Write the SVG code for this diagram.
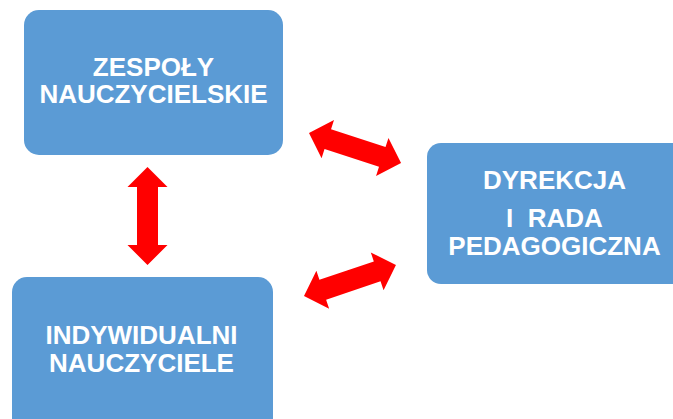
<svg xmlns="http://www.w3.org/2000/svg" xmlns:xlink="http://www.w3.org/1999/xlink" width="673" height="419" viewBox="0 0 673 419">
<style>
.box{fill:#5B9BD5;}
.t{fill:#FFFFFF;font-family:"Liberation Sans",Arial,sans-serif;font-weight:bold;font-size:26px;text-anchor:middle;white-space:pre;}
.arr{fill:#FF0000;}
</style>
<defs>
<path id="dbl" d="M0,0 L20,-20 L20,-10.5 L78,-10.5 L78,-20 L98,0 L78,20 L78,10.5 L20,10.5 L20,20 Z"/>
</defs>
<rect width="673" height="419" fill="#FFFFFF"/>
<g id="zespoly">
<rect class="box" x="24" y="10" width="259" height="145" rx="15"/>
<text class="t" x="153.5" y="76">ZESPOŁY</text>
<text class="t" x="153.5" y="103">NAUCZYCIELSKIE</text>
</g>
<g id="dyrekcja">
<rect class="box" x="427" y="143" width="270" height="141" rx="14"/>
<text class="t" x="554.5" y="189">DYREKCJA</text>
<text class="t" x="554.5" y="227" xml:space="preserve">I  RADA</text>
<text class="t" x="554.5" y="255">PEDAGOGICZNA</text>
</g>
<g id="indywidualni">
<rect class="box" x="12" y="277" width="261" height="160" rx="15"/>
<text class="t" x="141.5" y="344">INDYWIDUALNI</text>
<text class="t" x="141.5" y="372">NAUCZYCIELE</text>
</g>
<g id="connectors" class="arr">
<use xlink:href="#dbl" transform="translate(147.5,167) rotate(90)"/>
<use xlink:href="#dbl" transform="translate(309,133) rotate(18.06) scale(0.988,1)"/>
<use xlink:href="#dbl" transform="translate(304,296) rotate(-18.6) scale(0.99,1)"/>
</g>
</svg>
